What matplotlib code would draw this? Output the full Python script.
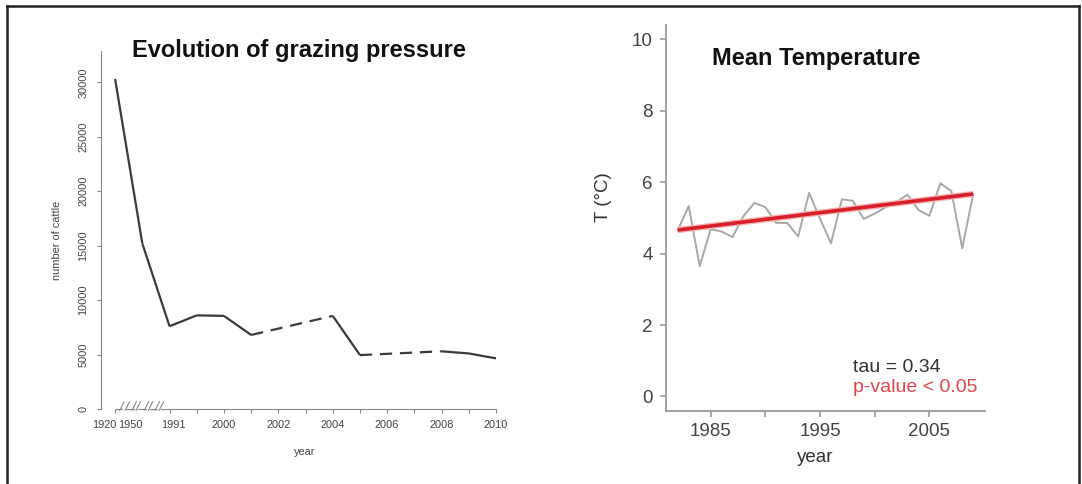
import matplotlib
matplotlib.use("Agg")
import matplotlib.pyplot as plt
from matplotlib.lines import Line2D
from matplotlib import font_manager
import numpy as np

# ---------------- data ----------------
cattle_years = [1920, 1950, 1991, 1999, 2000, 2001, 2004, 2005, 2008, 2009, 2010]
cattle_counts = [30300, 15200, 7600, 8600, 8550, 6800, 8550, 4950, 5300, 5100, 4650]
cattle_xlabels = ["1920", "1950", "1991", "2000", "2002", "2004", "2006", "2008", "2010"]
cattle_yticks = [0, 5000, 10000, 15000, 20000, 25000, 30000]

temp_years = list(range(1982, 2010))
temp_values = [4.66, 5.33, 3.65, 4.68, 4.62, 4.46, 5.05, 5.42, 5.30, 4.86,
               4.86, 4.48, 5.70, 4.98, 4.29, 5.52, 5.48, 4.97, 5.12, 5.30,
               5.45, 5.65, 5.22, 5.06, 5.97, 5.75, 4.15, 5.67]
trend_years = [1982, 2009]
trend_values = [4.66, 5.67]
temp_xticks = [1985, 1990, 1995, 2000, 2005]
temp_xlabels = ["1985", "", "1995", "", "2005"]
temp_yticks = [0, 2, 4, 6, 8, 10]

W, H = 1082, 484
fig = plt.figure(figsize=(W / 100, H / 100), dpi=100)
fig.patch.set_facecolor("white")
SANS = ["Liberation Sans", "DejaVu Sans"]
installed = {f.name for f in font_manager.fontManager.ttflist}
NARROW = ["Liberation Sans Narrow"] if "Liberation Sans Narrow" in installed else SANS
small_fs = 9.3 if NARROW[0] == "Liberation Sans Narrow" else 7.9


def px(x, y):
    return x / W, 1 - y / H


# frame (left, top, right lines)
for (x0, y0, x1, y1) in [(6.5, 490, 6.5, 6), (6.5, 6, 1079, 6), (1079, 6, 1079, 490)]:
    a, b = px(x0, y0)
    c, d = px(x1, y1)
    fig.add_artist(Line2D([a, c], [b, d], color="#222222", lw=1.8))

# ---------------- left chart ----------------
def pos_of(year):
    if year == 1920:
        return -2
    if year == 1950:
        return -1
    if year == 1991:
        return 0
    if year < 2000:
        return 1
    return year - 1998

xpos = [pos_of(y) for y in cattle_years]

ax1 = fig.add_axes([100.7 / W, 75 / H, (509.6 - 100.7) / W, (439.8 - 75) / H])
ax1.set_xlim(-2.53, 12.5)
ax1.set_ylim(0, 33500)
lc = "#3a3a3a"
for i in range(len(xpos) - 1):
    ls = "-" if xpos[i + 1] - xpos[i] == 1 else (0, (5.5, 3.5))
    ax1.plot(xpos[i:i + 2], cattle_counts[i:i + 2], color=lc, lw=1.6,
             linestyle=ls, solid_capstyle="butt", dash_capstyle="butt")

for s in ["top", "right"]:
    ax1.spines[s].set_visible(False)
ax1.spines["left"].set_color("#888888")
ax1.spines["left"].set_bounds(0, 32900)
ax1.spines["bottom"].set_color("#888888")
ax1.spines["bottom"].set_bounds(0, 12)
ax1.set_yticks(cattle_yticks)
ax1.set_yticklabels([str(v) for v in cattle_yticks], rotation=90, va="center",
                    fontsize=small_fs, color="#444444", family=NARROW)
ax1.tick_params(axis="y", length=3, color="#888888", pad=6)
ax1.set_xticks([-2] + list(range(0, 13)))
ax1.set_xticklabels([])
ax1.tick_params(axis="x", length=3, color="#888888")
# broken-axis marks between 1920 and 1991
tr = ax1.get_xaxis_transform()
for xs in [(-2.0, -1.75), (-1.6, -1.3), (-1.15, -0.85), (-0.7, -0.45), (-0.3, 0.0)]:
    ax1.plot(xs, [0, 0], color="#888888", lw=0.8, transform=tr, clip_on=False)
for xm in [-1.75, -1.55, -1.3, -1.15, -0.85, -0.7, -0.45, -0.3]:
    ax1.plot([xm - 0.08, xm + 0.08], [-0.004, 0.02], color="#888888", lw=0.8,
             transform=tr, clip_on=False)
label_pos = [-2.4, -1.44, 0.15, 2, 4, 6, 8, 10, 12]
for p, t in zip(label_pos, cattle_xlabels):
    ax1.text(p, -0.031, t, transform=tr, ha="center", va="top", fontsize=small_fs,
             color="#444444", family=NARROW)
fig.text(*px(305, 452), "year", ha="center", va="center", fontsize=small_fs,
         color="#444444", family=NARROW)
fig.text(*px(57, 240), "number of cattle", ha="center", va="center", rotation=90,
         fontsize=small_fs, color="#444444", family=NARROW)
fig.text(*px(299, 50), "Evolution of grazing pressure", ha="center", va="center",
         fontsize=17, fontweight="bold", color="#111111", family=SANS)

# ---------------- right chart ----------------
ax2 = fig.add_axes([666 / W, 73.3 / H, 319 / W, 385.6 / H])
ax2.plot(temp_years, temp_values, color="#a8a8a8", lw=1.4)
ax2.plot(trend_years, trend_values, color="#f4b0b0", lw=4.5, solid_capstyle="butt")
ax2.plot(trend_years, trend_values, color="#d8202a", lw=2.6, solid_capstyle="butt")
ax2.set_xlim(1980.92, 2010.08)
ax2.set_ylim(-0.4, 10.4)
for s in ["top", "right"]:
    ax2.spines[s].set_visible(False)
for s in ["left", "bottom"]:
    ax2.spines[s].set_color("#9a9a9a")
    ax2.spines[s].set_linewidth(1.3)
ax2.set_xticks(temp_xticks)
ax2.set_xticklabels(temp_xlabels)
ax2.set_yticks(temp_yticks)
ax2.tick_params(length=4.5, color="#9a9a9a", width=1.2, labelsize=13.5,
                labelcolor="#444444")
ax2.tick_params(axis="x", pad=4)
ax2.tick_params(axis="y", pad=5)
for lab in ax2.get_xticklabels() + ax2.get_yticklabels():
    lab.set_family(SANS)
fig.text(*px(816, 58), "Mean Temperature", ha="center", va="center", fontsize=17,
         fontweight="bold", color="#111111", family=SANS)
fig.text(*px(603, 197), "T (°C)", ha="center", va="center", rotation=90,
         fontsize=13.5, color="#333333", family=SANS)
fig.text(*px(815, 458), "year", ha="center", va="center", fontsize=13.5,
         color="#333333", family=SANS)
fig.text(*px(853, 367), "tau = 0.34", ha="left", va="center", fontsize=14,
         color="#333333", family=SANS)
fig.text(*px(853, 388), "p-value < 0.05", ha="left", va="center", fontsize=14,
         color="#e0454a", family=SANS)

fig.savefig("out.png", dpi=100, facecolor="white")
